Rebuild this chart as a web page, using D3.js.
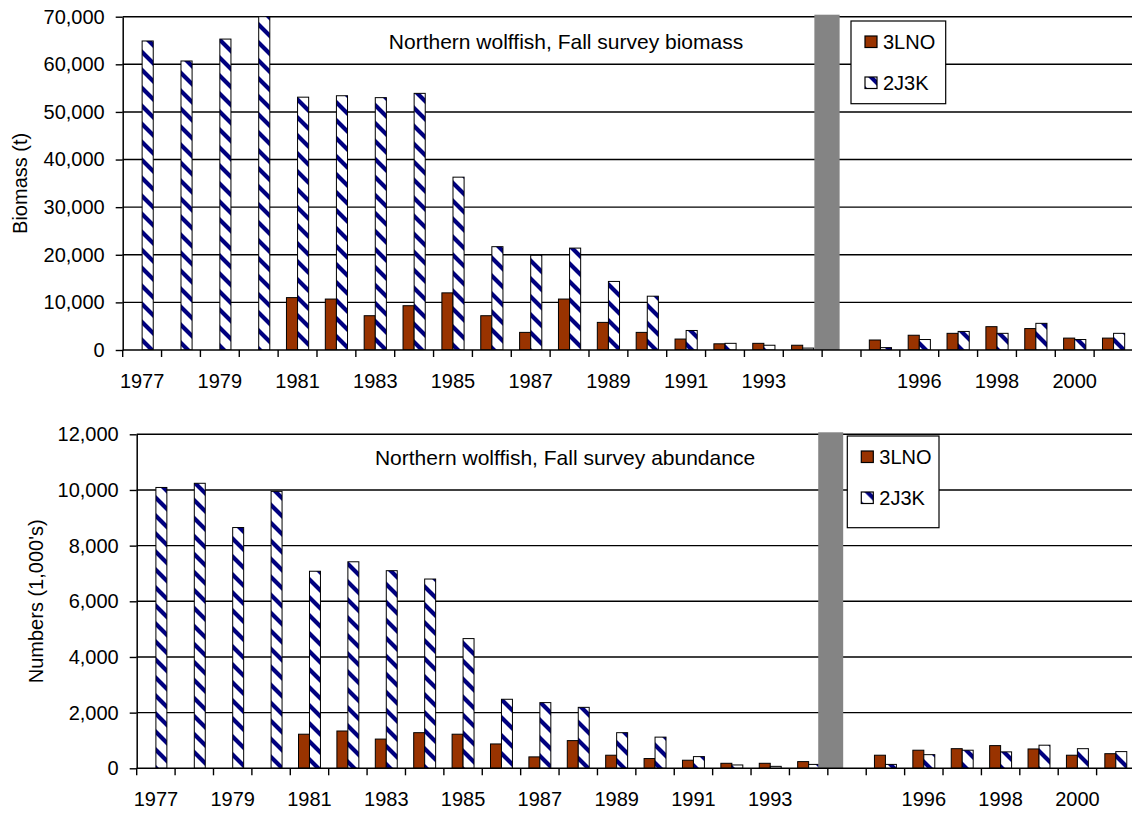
<!DOCTYPE html>
<html>
<head>
<meta charset="utf-8">
<script src="https://cdn.jsdelivr.net/npm/d3@7"></script>
<style>
  html, body { margin: 0; padding: 0; background: #fff; }
  svg { display: block; }
  text { font-family: "Liberation Sans", Arial, sans-serif; fill: #000; }
</style>
</head>
<body>
<svg id="chart" width="1132" height="815"></svg>
<script>
// ---- Data ----
const categories = ['1977','1978','1979','1980','1981','1982','1983','1984','1985','1986','1987','1988','1989','1990','1991','1992','1993','1994','','1995','1996','1997','1998','1999','2000','2001'];
const seriesNames = ['3LNO', '2J3K'];

const biomass3LNO = [null,null,null,null,11000,10700,7200,9300,12000,7200,3700,10700,5800,3700,2300,1300,1400,1000,null,2100,3100,3500,4900,4500,2500,2500];
const biomass2J3K = [64900,60700,65300,70000,53100,53400,53000,53900,36300,21700,19900,21400,14400,11300,4100,1400,1000,400,null,500,2200,3900,3500,5600,2200,3500];

const abundance3LNO = [null,null,null,null,1225,1340,1050,1280,1225,875,410,995,470,350,290,180,180,240,null,470,650,705,815,695,470,525];
const abundance2J3K = [10090,10240,8650,9950,7080,7420,7100,6800,4660,2480,2360,2190,1280,1120,420,120,70,140,null,140,490,650,590,830,705,600];

const biomassTicks = [0,10000,20000,30000,40000,50000,60000,70000];
const abundanceTicks = [0,2000,4000,6000,8000,10000,12000];

const biomassTitle = 'Northern wolffish, Fall survey biomass';
const abundanceTitle = 'Northern wolffish, Fall survey abundance';
const biomassYLabel = 'Biomass (t)';
const abundanceYLabel = "Numbers (1,000's)";

// ---- Drawing ----
const svg = d3.select('#chart');
const FONT = 20;
const COL_3LNO = '#993300';
const NAVY = '#000080';
const GAP_KEY = '';

const defs = svg.append('defs');
const pat = defs.append('pattern')
  .attr('id', 'stripe')
  .attr('patternUnits', 'userSpaceOnUse')
  .attr('width', 18).attr('height', 18);
pat.append('rect').attr('width', 18).attr('height', 18).attr('fill', '#fff');
pat.append('path')
  .attr('d', 'M-5,-5 L23,23 M-5,13 L5,23 M13,-5 L23,5')
  .attr('stroke', NAVY).attr('stroke-width', 4.2).attr('fill', 'none');

function drawPanel(cfg) {
  const g = svg.append('g');
  const x = d3.scaleBand().domain(categories).range([cfg.left, cfg.right]).padding(0);
  const y = d3.scaleLinear().domain([0, cfg.max]).range([cfg.bottom, cfg.top]);
  const bw = x.bandwidth();
  const w = bw / 3.5;

  // clip
  const clipId = 'clip' + cfg.id;
  defs.append('clipPath').attr('id', clipId)
    .append('rect').attr('x', cfg.left).attr('y', cfg.top - 0.5)
    .attr('width', cfg.right - cfg.left).attr('height', cfg.bottom - cfg.top + 0.5);

  // grid lines
  g.append('g').selectAll('line')
    .data(cfg.ticks.filter(t => t > 0))
    .join('line')
    .attr('x1', cfg.left).attr('x2', cfg.right)
    .attr('y1', d => y(d)).attr('y2', d => y(d))
    .attr('stroke', '#000').attr('stroke-width', 1.4);

  // bars
  const bars = g.append('g').attr('clip-path', `url(#${clipId})`);
  const s0 = categories.map((c, i) => ({c, v: cfg.a[i]})).filter(d => d.v != null);
  const s1 = categories.map((c, i) => ({c, v: cfg.b[i]})).filter(d => d.v != null);
  bars.selectAll('rect.a').data(s0).join('rect')
    .attr('class', 'a')
    .attr('x', d => x(d.c) + 0.75 * w)
    .attr('width', w)
    .attr('y', d => y(d.v))
    .attr('height', d => y(0) - y(d.v))
    .attr('fill', COL_3LNO).attr('stroke', '#000').attr('stroke-width', 1);
  bars.selectAll('rect.b').data(s1).join('rect')
    .attr('class', 'b')
    .attr('x', d => x(d.c) + 1.75 * w)
    .attr('width', w)
    .attr('y', d => y(d.v))
    .attr('height', d => y(0) - y(d.v))
    .attr('fill', 'url(#stripe)').attr('stroke', '#000').attr('stroke-width', 1);

  // gray break bar
  g.append('rect')
    .attr('x', x(GAP_KEY) - cfg.gapShift * bw)
    .attr('width', 0.65 * bw)
    .attr('y', cfg.top - 2)
    .attr('height', cfg.bottom - cfg.top + 2)
    .attr('fill', '#848484');

  // y axis
  const ya = d3.axisLeft(y).tickValues(cfg.ticks).tickFormat(d3.format(','))
    .tickSize(7).tickSizeOuter(0).tickPadding(cfg.yPad);
  const yg = g.append('g').attr('transform', `translate(${cfg.left},0)`).call(ya);
  yg.select('.domain').attr('stroke', '#000').attr('stroke-width', 1.5);
  yg.selectAll('.tick line').attr('stroke', '#000').attr('stroke-width', 1.4);
  yg.selectAll('text').style('font-size', FONT + 'px').attr('fill', '#000');

  // x axis
  const xa = d3.axisBottom(x).tickSize(0).tickSizeOuter(0).tickPadding(24)
    .tickFormat((d, i) => (i % 2 === 0 ? d : ''));
  const xg = g.append('g').attr('transform', `translate(0,${cfg.bottom})`).call(xa);
  xg.select('.domain').remove();
  xg.selectAll('text').style('font-size', FONT + 'px').attr('fill', '#000');
  // boundary ticks
  const bounds = categories.map(c => x(c)).concat([cfg.right]);
  g.append('g').selectAll('line').data(bounds).join('line')
    .attr('x1', d => d).attr('x2', d => d)
    .attr('y1', cfg.bottom).attr('y2', cfg.bottom + 7)
    .attr('stroke', '#000').attr('stroke-width', 1.4);
  g.append('line')
    .attr('x1', cfg.left).attr('x2', cfg.right)
    .attr('y1', cfg.bottom).attr('y2', cfg.bottom)
    .attr('stroke', '#000').attr('stroke-width', 1.6);

  // title inside plot
  g.append('text')
    .attr('x', cfg.titleX).attr('y', cfg.titleY)
    .attr('text-anchor', 'middle')
    .style('font-size', '21px')
    .text(cfg.title);

  // y axis label
  g.append('text')
    .attr('transform', `translate(${cfg.yLabelX},${(cfg.top + cfg.bottom) / 2}) rotate(-90)`)
    .attr('text-anchor', 'middle')
    .style('font-size', FONT + 'px')
    .text(cfg.yLabel);

  // legend
  const lg = g.append('g').attr('transform', `translate(${cfg.legX},${cfg.legY})`);
  lg.append('rect').attr('width', cfg.legW).attr('height', cfg.legH)
    .attr('fill', '#fff').attr('stroke', '#000').attr('stroke-width', 1.2);
  const fills = [COL_3LNO, 'url(#stripe)'];
  seriesNames.forEach((name, i) => {
    const yy = 15 + i * 41;
    lg.append('rect').attr('x', 14).attr('y', yy).attr('width', 12).attr('height', 11.5)
      .attr('fill', fills[i]).attr('stroke', '#000').attr('stroke-width', 1.2);
    lg.append('text').attr('x', 32).attr('y', yy + 13)
      .style('font-size', FONT + 'px').text(name);
  });
}

drawPanel({
  id: 'top', a: biomass3LNO, b: biomass2J3K, max: 70000, ticks: biomassTicks,
  left: 122.7, right: 1133, top: 16.7, bottom: 350, yPad: 11,
  gapShift: 0.2,
  title: biomassTitle, titleX: 566, titleY: 49.3,
  yLabel: biomassYLabel, yLabelX: 27,
  legX: 851, legY: 21, legW: 94.7, legH: 82.7
});

drawPanel({
  id: 'bot', a: abundance3LNO, b: abundance2J3K, max: 12000, ticks: abundanceTicks,
  left: 136.7, right: 1135, top: 434.3, bottom: 768.3, yPad: 11,
  gapShift: 0.25,
  title: abundanceTitle, titleX: 565, titleY: 465,
  yLabel: abundanceYLabel, yLabelX: 42.5,
  legX: 847.3, legY: 436, legW: 91.7, legH: 91.7
});
</script>
</body>
</html>
